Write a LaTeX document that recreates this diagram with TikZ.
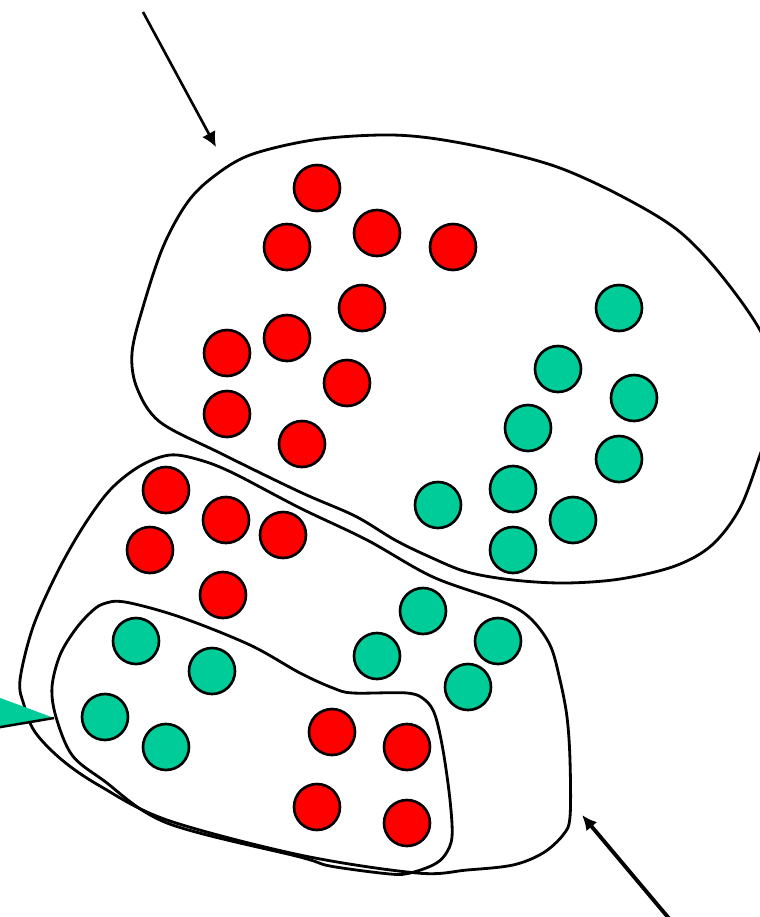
\documentclass[tikz,border=0pt]{standalone}
\usetikzlibrary{arrows.meta}

\definecolor{ballred}{RGB}{255,0,0}
\definecolor{ballteal}{RGB}{0,204,153}

\tikzset{
  redball/.style={circle, draw=black, fill=ballred, line width=1.5pt, minimum size=0.92cm, inner sep=0pt},
  tealball/.style={circle, draw=black, fill=ballteal, line width=1.5pt, minimum size=0.92cm, inner sep=0pt},
  blob/.style={draw=black, line width=1.6pt},
}

\begin{document}
\begin{tikzpicture}[x=0.02cm, y=-0.02cm, thick]

  \clip (0,0) rectangle (760,917);

  % -- Upper set --
  \draw[blob] plot[smooth cycle, tension=0.55] coordinates {
    (380,135) (430,138) (495,150) (560,168) (625,198) (680,232) (725,280)
    (765,340) (778,400) (760,455) (740,508) (712,545) (675,566) (620,579)
    (565,583) (513,580) (467,572) (430,557) (395,540) (355,516) (300,492)
    (220,453) (160,422) (137,388) (132,353) (143,307) (163,247) (187,203)
    (213,177) (250,155) (313,140)};

  % -- Middle set --
  \draw[blob] plot[smooth cycle, tension=0.55] coordinates {
    (170,455) (200,460) (233,473) (300,508) (367,540) (433,577) (503,602)
    (530,618) (550,645) (560,680) (567,717) (570,760) (570,817) (563,835)
    (543,853) (513,865) (467,870) (417,873) (300,855) (167,820) (100,786)
    (62,760) (35,732) (24,705) (20,680) (33,627) (57,573) (83,527) (110,490)
    (140,466)};

  % -- Lower set --
  \draw[blob] plot[smooth cycle, tension=0.55] coordinates {
    (103,604) (125,602) (180,617) (250,645) (300,673) (333,688) (353,693)
    (407,693) (425,700) (435,715) (443,750) (450,800) (452,837) (445,855)
    (433,865) (410,873) (390,874) (330,866) (300,857) (167,823) (103,780)
    (72,755) (56,717) (52,687) (60,655) (75,630) (90,613)};

  % -- Balls in the upper set --
  \foreach \x/\y [count=\i] in {317/188, 287/247, 377/233, 453/247, 362/308,
      287/338, 227/353, 347/383, 227/414, 302/444}
    \node[redball] (ur\i) at (\x,\y) {};
  \foreach \x/\y [count=\i] in {619/308, 558/369, 634/398, 528/428, 619/459,
      438/505, 513/489, 573/520, 513/550}
    \node[tealball] (ut\i) at (\x,\y) {};

  % -- Balls in the middle set --
  \foreach \x/\y [count=\i] in {166/490, 226/520, 283/535, 150/550, 223/595}
    \node[redball] (mr\i) at (\x,\y) {};
  \foreach \x/\y [count=\i] in {423/611, 498/641, 377/656, 468/687}
    \node[tealball] (mt\i) at (\x,\y) {};

  % -- Balls in the lower set --
  \foreach \x/\y [count=\i] in {136/641, 212/671, 105/717, 166/747}
    \node[tealball] (lt\i) at (\x,\y) {};
  \foreach \x/\y [count=\i] in {332/732, 407/747, 317/807, 407/823}
    \node[redball] (lr\i) at (\x,\y) {};

  % -- Pointer on the left --
  \coordinate (ptip) at (54,718);
  \coordinate (ptop) at (-5,696);
  \coordinate (pbot) at (-5,728);
  \fill[ballteal] (ptop) -- (ptip) -- (pbot) -- cycle;
  \draw[line width=1.4pt] (pbot) -- (ptip);

  % -- Arrows --
  \coordinate (topstart) at (143,12);
  \coordinate (topend) at (216,147);
  \draw[line width=1.5pt, -{Latex[length=0.3cm, width=0.3cm]}] (topstart) -- (topend);

  \coordinate (botstart) at (672,922);
  \coordinate (botend) at (582,815);
  \draw[line width=2.2pt, -{Latex[length=0.3cm, width=0.28cm]}] (botstart) -- (botend);

\end{tikzpicture}
\end{document}
